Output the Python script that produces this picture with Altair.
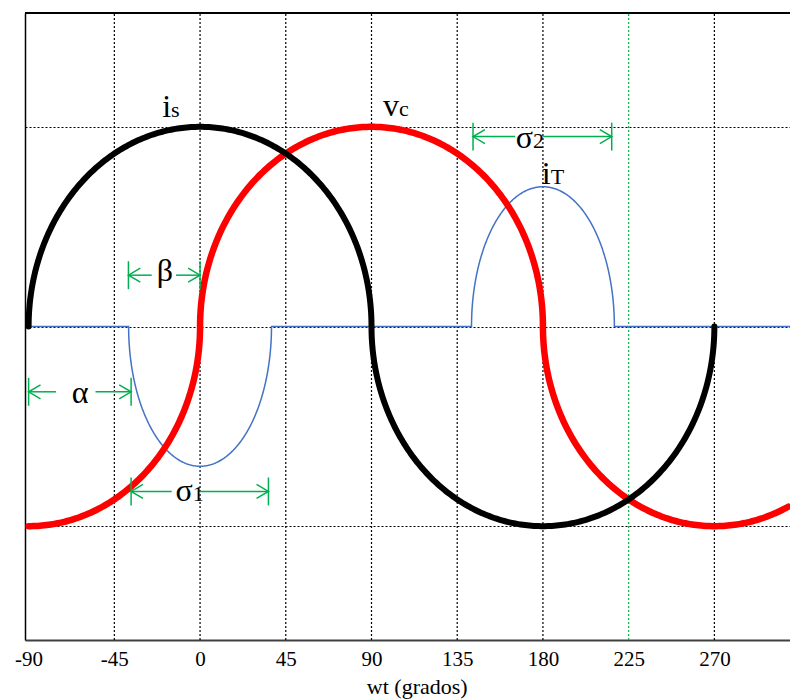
import math
import numpy as np
import pandas as pd
import altair as alt

# ---- axis ranges (degrees / per-unit) ----
X_MIN, X_MAX = -91.9, 309.7
Y_MIN, Y_MAX = -1.57, 1.57
tick_vals = [-90, -45, 0, 45, 90, 135, 180, 225, 270]
vgrid_vals = [-45, 0, 45, 90, 135, 180, 225, 270]
vgrid_cols = ["black", "black", "black", "black", "black", "black", "#00B050", "black"]
y_grid_vals = [-1, 0, 1]
x_title = "wt (grados)"

# ---- waveform lobes (centre, amplitude, half width) ----
is_centers = [0, 180]
is_amps = [1.0, -1.0]
is_half = 90

vc_centers = [-90, 90, 270]
vc_amps = [-1.0, 1.0, -1.0]
vc_half = 90

it_centers = [0, 180]
it_amps = [-0.70, 0.70]
it_half = 37.5
it_start = -90

# ---- annotation arrows: alpha, beta, sigma1, sigma2 ----
arrow_x1 = [-90.0, -37.6, -36.2, 143.3]
arrow_x2 = [-36.2, 0.0, 35.9, 216.1]
arrow_y = [-0.327, 0.257, -0.826, 0.951]
gap_x1 = [-75.6, -25.4, -14.9, 165.4]
gap_x2 = [-54.9, -12.6, 0.0, 180.1]
bar_half = 0.07

# ---- labels ----
main_text = ["i", "v", "i", "σ", "σ"]
main_x = [-15.2, 104.5, 184.1, 174.8, -3.9]
main_y = [1.05, 1.055, 0.715, 0.892, -0.872]
sub_text = ["s", "c", "T", "2", "1"]
greek_text = ["β", "α"]
greek_x = [-18.4, -63.0]
greek_y = [0.226, -0.381]

FONT = "Liberation Serif"
GREEN = "#00B050"


def lobe(c, a, hw, n=241):
    t = np.linspace(math.pi, 0, n)
    return list(c + hw * np.cos(t)), list(a * np.sin(t))


def build(centers, amps, hw):
    xs, ys = [], []
    for c, a in zip(centers, amps):
        lx, ly = lobe(c, a, hw)
        xs += lx
        ys += ly
    return xs, ys


# i_s
sx, sy = build(is_centers, is_amps, is_half)
df_is = pd.DataFrame({"x": sx, "y": sy})
df_is["i"] = range(len(df_is))

# v_c
vx, vy = build(vc_centers, vc_amps, vc_half)
df_vc = pd.DataFrame({"x": vx, "y": vy})
df_vc = df_vc[(df_vc.x >= -90 - 1e-9) & (df_vc.x <= X_MAX)].reset_index(drop=True)
df_vc["i"] = range(len(df_vc))

# i_T
tx, ty = [it_start], [0.0]
lx, ly = build(it_centers, it_amps, it_half)
tx += lx + [X_MAX]
ty += ly + [0.0]
df_it = pd.DataFrame({"x": tx, "y": ty})
df_it["i"] = range(len(df_it))

# arrows
rows = []
for a1, a2, y, g1, g2 in zip(arrow_x1, arrow_x2, arrow_y, gap_x1, gap_x2):
    rows.append({"x": a1, "x2": g1, "y": y, "y2": y})
    rows.append({"x": g2, "x2": a2, "y": y, "y2": y})
    rows.append({"x": a1, "x2": a1, "y": y - bar_half, "y2": y + bar_half})
    rows.append({"x": a2, "x2": a2, "y": y - bar_half, "y2": y + bar_half})
df_rules = pd.DataFrame(rows)
df_left_heads = pd.DataFrame({"x": arrow_x1, "y": arrow_y})
df_right_heads = pd.DataFrame({"x": arrow_x2, "y": arrow_y})

df_main = pd.DataFrame({"x": main_x, "y": main_y, "t": main_text})
df_sub = pd.DataFrame({"x": main_x, "y": main_y, "t": sub_text})
df_greek = pd.DataFrame({"x": greek_x, "y": greek_y, "t": greek_text})
df_top = pd.DataFrame({"x": [X_MIN], "x2": [X_MAX], "y": [Y_MAX]})
df_vgrid = pd.DataFrame({"x": vgrid_vals, "c": vgrid_cols, "y": [Y_MIN] * len(vgrid_vals),
                         "y2": [Y_MAX] * len(vgrid_vals)})
# axis title, placed under the tick labels
df_title = pd.DataFrame({"x": [114.0], "y": [-1.84], "t": [x_title]})

xscale = alt.Scale(domain=[X_MIN, X_MAX], nice=False, zero=False)
yscale = alt.Scale(domain=[Y_MIN, Y_MAX], nice=False, zero=False)

x_axis = alt.Axis(
    values=tick_vals,
    title="",
    grid=False,
    ticks=False,
    tickSize=0,
    labelExpr="datum.value < 0 ? '-' + abs(datum.value) : '' + datum.value",
    labelFont=FONT,
    labelFontSize=21,
    labelColor="black",
    labelPadding=8,
    labelFlush=False,
    labelOverlap=False,
    domainColor="#404040",
    domainWidth=2,
)
y_axis = alt.Axis(
    values=y_grid_vals,
    title="",
    grid=True,
    gridDash=[2, 2],
    gridWidth=1.2,
    gridColor="black",
    labels=False,
    ticks=False,
    tickSize=0,
    domainColor="black",
    domainWidth=1.5,
)


def X():
    return alt.X("x:Q", scale=xscale, axis=x_axis)


def Y():
    return alt.Y("y:Q", scale=yscale, axis=y_axis)


vgrid = alt.Chart(df_vgrid).mark_rule(strokeDash=[2, 2], strokeWidth=1.2).encode(
    x=X(), y=Y(), y2="y2:Q", color=alt.Color("c:N", scale=None)
)
blue = alt.Chart(df_it).mark_line(color="#4472C4", strokeWidth=1.5).encode(
    x=X(), y=Y(), order="i:Q"
)
red = alt.Chart(df_vc).mark_line(color="#FF0000", strokeWidth=6.5, strokeCap="round").encode(
    x=X(), y=Y(), order="i:Q"
)
black = alt.Chart(df_is).mark_line(color="black", strokeWidth=6, strokeCap="round").encode(
    x=X(), y=Y(), order="i:Q"
)
rules = alt.Chart(df_rules).mark_rule(color=GREEN, strokeWidth=1.5).encode(
    x=X(), x2="x2:Q", y=Y(), y2="y2:Q"
)
lheads = alt.Chart(df_left_heads).mark_point(
    shape="M1.7,-1L0,0L1.7,1", filled=False, stroke=GREEN, strokeWidth=1.5, size=196, opacity=1
).encode(x=X(), y=Y())
rheads = alt.Chart(df_right_heads).mark_point(
    shape="M-1.7,-1L0,0L-1.7,1", filled=False, stroke=GREEN, strokeWidth=1.5, size=196, opacity=1
).encode(x=X(), y=Y())
main_lbl = alt.Chart(df_main).mark_text(
    font=FONT, fontSize=32, align="right", baseline="alphabetic", color="black"
).encode(x=X(), y=Y(), text="t:N")
sub_lbl = alt.Chart(df_sub).mark_text(
    font=FONT, fontSize=22, align="left", baseline="alphabetic", color="black"
).encode(x=X(), y=Y(), text="t:N")
greek_lbl = alt.Chart(df_greek).mark_text(
    font=FONT, fontSize=32, align="center", baseline="alphabetic", color="black"
).encode(x=X(), y=Y(), text="t:N")
title_lbl = alt.Chart(df_title).mark_text(
    font=FONT, fontSize=22, align="center", baseline="alphabetic", color="black"
).encode(x=X(), y=Y(), text="t:N")
top = alt.Chart(df_top).mark_rule(color="black", strokeWidth=2).encode(
    x=X(), x2="x2:Q", y=Y()
)

chart = (
    alt.layer(vgrid, blue, red, black, rules, lheads, rheads, main_lbl, sub_lbl, greek_lbl,
              title_lbl, top)
    .properties(
        width=765,
        height=627,
        autosize=alt.AutoSizeParams(type="none"),
        padding={"left": 25, "top": 13, "right": 0, "bottom": 60},
        background="white",
    )
    .configure_view(stroke=None)
)

chart.save("out.html", embed_options={"renderer": "svg", "actions": False})
